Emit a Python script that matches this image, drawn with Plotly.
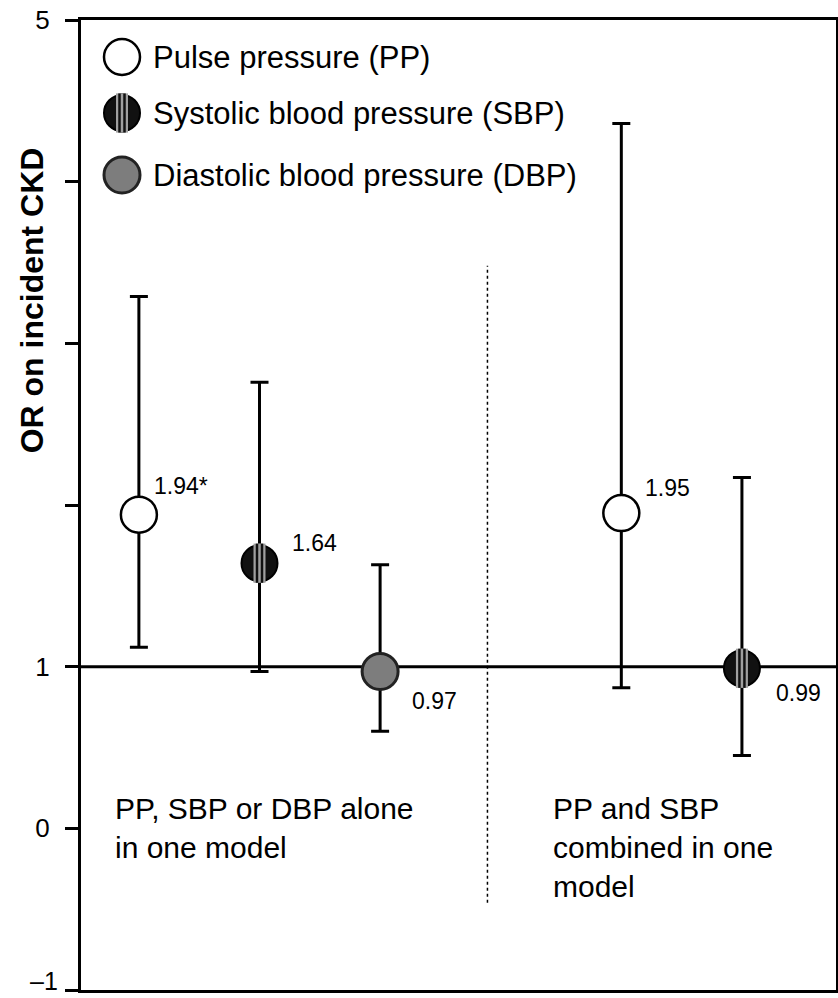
import plotly.graph_objects as go

# ---------------- data ----------------
measures = ["PP", "SBP", "DBP", "PP", "SBP"]
x_pos = [1, 2, 3, 5, 6]
odds_ratio = [1.94, 1.64, 0.97, 1.95, 0.99]
ci_lower = [1.12, 0.97, 0.60, 0.87, 0.45]
ci_upper = [3.29, 2.76, 1.63, 4.36, 2.17]
significant = [True, False, False, False, False]

legend_keys = ["PP", "SBP", "DBP"]
legend_names = ["Pulse pressure (PP)", "Systolic blood pressure (SBP)", "Diastolic blood pressure (DBP)"]
group_labels = ["PP, SBP or DBP alone<br>in one model", "PP and SBP<br>combined in one<br>model"]
y_tickvals = [-1, 0, 1, 2, 3, 4, 5]
y_ticktext = ["\u20131", "0", "1", "", "", "", "5"]
y_title = "OR on incident CKD"

# ---------------- styling ----------------
FONT = "Liberation Sans, Arial, Helvetica, sans-serif"
MSIZE = 36
TICKLEN = 13
TICK_STANDOFF = 10
marker_styles = {
    "PP": dict(symbol="circle", size=MSIZE, color="white", line=dict(color="black", width=2.5)),
    "SBP": dict(symbol="circle", size=MSIZE, color="#111111", line=dict(color="black", width=2)),
    "DBP": dict(symbol="circle", size=MSIZE, color="#7d7d7d", line=dict(color="#222222", width=3)),
}
# SBP stripe layers: (colour, stroke width), drawn widest first
sbp_stripes = [("#a0a0a0", 12), ("#111111", 7.5), ("#a0a0a0", 2.5)]
# label offsets (px) relative to each point: right / up
label_offsets = [(13, 29), (30, 20), (30, -29), (22, 25), (32, -25)]
divider_x = 3.89
divider_span = (-0.46, 3.48)

fig = go.Figure()

# confidence intervals (drawn first so markers sit on top)
fig.add_trace(go.Scatter(
    x=x_pos, y=odds_ratio, mode="markers",
    marker=dict(size=1, opacity=0),
    error_y=dict(type="data", symmetric=False,
                 array=[hi - v for hi, v in zip(ci_upper, odds_ratio)],
                 arrayminus=[v - lo for lo, v in zip(ci_lower, odds_ratio)],
                 color="black", thickness=3, width=9),
    showlegend=False, hoverinfo="skip",
))


def add_markers(xs, ys, key, xaxis="x", yaxis="y"):
    fig.add_trace(go.Scatter(x=xs, y=ys, mode="markers", marker=marker_styles[key],
                             xaxis=xaxis, yaxis=yaxis, showlegend=False, hoverinfo="skip"))
    if key == "SBP":
        # vertical striping of the SBP symbol
        for col, w in sbp_stripes:
            fig.add_trace(go.Scatter(x=xs, y=ys, mode="markers",
                                     marker=dict(symbol="line-ns", size=MSIZE - 8,
                                                 line=dict(color=col, width=w)),
                                     xaxis=xaxis, yaxis=yaxis, showlegend=False,
                                     hoverinfo="skip"))


for key in legend_keys:
    idx = [i for i, m in enumerate(measures) if m == key]
    add_markers([x_pos[i] for i in idx], [odds_ratio[i] for i in idx], key)

# legend block drawn on an overlay axis measured in pixels from the plot's top-left
legend_x = 41
legend_y = [37, 93, 155]
for key, ly in zip(legend_keys, legend_y):
    add_markers([legend_x], [ly], key, xaxis="x2", yaxis="y2")

annotations = []
for name, ly in zip(legend_names, legend_y):
    annotations.append(dict(x=legend_x + 29, y=ly, xref="x2", yref="y2", text=name,
                            showarrow=False, xanchor="left", yanchor="middle",
                            font=dict(family=FONT, size=31, color="black")))

# value labels
for i, v in enumerate(odds_ratio):
    dx, dy = label_offsets[i]
    annotations.append(dict(x=x_pos[i], y=v, xref="x", yref="y",
                            text=f"{v:.2f}" + ("*" if significant[i] else ""),
                            showarrow=False, xanchor="left", yanchor="middle",
                            xshift=dx, yshift=dy,
                            font=dict(family=FONT, size=23, color="black")))

# model group captions
annotations.append(dict(x=0.784, y=0.0, xref="x", yref="y", text=group_labels[0],
                        showarrow=False, xanchor="left", yanchor="middle", align="left",
                        font=dict(family=FONT, size=30, color="black")))
annotations.append(dict(x=4.416, y=-0.12, xref="x", yref="y", text=group_labels[1],
                        showarrow=False, xanchor="left", yanchor="middle", align="left",
                        font=dict(family=FONT, size=30, color="black")))

# y-axis title
annotations.append(dict(x=0, y=0.711, xref="paper", yref="paper", text=y_title,
                        showarrow=False, xanchor="center", yanchor="middle",
                        xshift=-49, textangle=-90,
                        font=dict(family=FONT, size=32, color="black", weight="bold")))

# the lowest tick label sits at the page edge, so it is placed to end just above it
axis_ticktext = list(y_ticktext)
axis_ticktext[0] = ""
annotations.append(dict(x=0, y=y_tickvals[0], xref="paper", yref="y", text=y_ticktext[0],
                        showarrow=False, xanchor="right", yanchor="bottom",
                        xshift=-(TICKLEN + TICK_STANDOFF - 2), yshift=-7,
                        font=dict(family=FONT, size=25, color="black")))

shapes = [
    dict(type="line", xref="paper", x0=0, x1=1, yref="y", y0=1, y1=1,
         line=dict(color="black", width=3), layer="below"),
    dict(type="line", xref="x", x0=divider_x, x1=divider_x, yref="y",
         y0=divider_span[0], y1=divider_span[1],
         line=dict(color="black", width=1.5, dash="dot"), layer="below"),
]

fig.update_layout(
    width=838, height=998,
    margin=dict(l=81, r=2, t=20, b=8, autoexpand=False),
    paper_bgcolor="white", plot_bgcolor="white",
    showlegend=False,
    annotations=annotations, shapes=shapes,
    xaxis=dict(range=[0.52, 6.78], showline=True, mirror=True, linecolor="black", linewidth=3,
               showticklabels=False, ticks="", showgrid=False, zeroline=False,
               automargin=False),
    yaxis=dict(range=[-1, 5], tickvals=y_tickvals, ticktext=axis_ticktext,
               ticks="outside", ticklen=TICKLEN, tickwidth=3, tickcolor="black",
               showline=True, mirror=True, linecolor="black", linewidth=3,
               showgrid=False, zeroline=False, ticklabelstandoff=TICK_STANDOFF,
               ticklabeloverflow="allow", automargin=False,
               tickfont=dict(family=FONT, size=26, color="black")),
    xaxis2=dict(range=[0, 755], overlaying="x", anchor="y2", visible=False),
    yaxis2=dict(range=[970, 0], overlaying="y", anchor="x2", visible=False),
)

fig.write_html("out.html")
